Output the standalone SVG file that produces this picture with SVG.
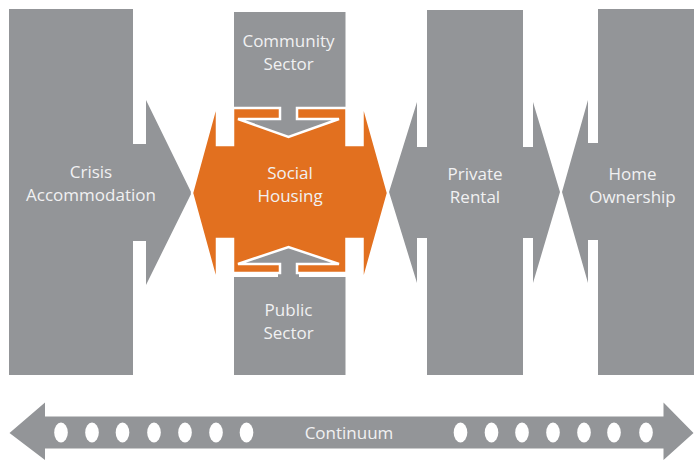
<svg xmlns="http://www.w3.org/2000/svg" width="694" height="461" viewBox="0 0 694 461">
  <style>
    .g { fill: #939598; }
    .o { fill: #E2701F; stroke: #ffffff; stroke-width: 2.5; stroke-linejoin: miter; }
    .t { font-family: "Open Sans", "Liberation Sans", sans-serif; font-size: 17px; fill: #f1f1f2; text-anchor: middle; }
    .dot { fill: #ffffff; }
  </style>
  <rect width="694" height="461" fill="#ffffff"/>

  <g id="crisis-accommodation">
    <path class="g" d="M9,9 L133,9 L133,144 L146,144 L146,100 L191.5,193 L146,285 L146,241 L133,241 L133,375 L9,375 Z"/>
    <text class="t" x="91" y="178">Crisis</text>
    <text class="t" x="91" y="201">Accommodation</text>
  </g>

  <g id="community-sector">
    <rect class="g" x="234" y="12" width="111.5" height="108"/>
    <text class="t" x="288.5" y="47">Community</text>
    <text class="t" x="288.5" y="70">Sector</text>
  </g>

  <g id="public-sector">
    <rect class="g" x="234" y="277" width="111.5" height="98"/>
    <text class="t" x="288.5" y="316">Public</text>
    <text class="t" x="288.5" y="339">Sector</text>
  </g>

  <g id="connectors">
    <polygon class="g" points="236,118 341,118 288.5,139"/>
    <polygon class="g" points="236,265 341,265 288.5,245"/>
    <rect class="g" x="278" y="262" width="21" height="16"/>
  </g>

  <g id="social-housing">
    <path class="o" d="M192,193 L217,102 L217,145 L233,145 L233,108 L280,108 L280,119 L238,119 L288.5,137 L339,119 L297,119 L297,108 L346.5,108 L346.5,145 L362.5,145 L362.5,102 L388,193 L362.5,284 L362.5,239 L346.5,239 L346.5,273 L297,273 L297,264 L339,264 L288.5,247 L238,264 L280,264 L280,273 L233,273 L233,239 L217,239 L217,284 Z"/>
    <text class="t" x="290" y="179">Social</text>
    <text class="t" x="290" y="202">Housing</text>
  </g>

  <g id="private-rental">
    <path class="g" d="M389,192 L417,102 L417,147 L427,147 L427,10 L523,10 L523,147 L533,147 L533,102 L560,192 L533,283 L533,238 L523,238 L523,375 L427,375 L427,238 L417,238 L417,283 Z"/>
    <text class="t" x="475" y="180">Private</text>
    <text class="t" x="475" y="203">Rental</text>
  </g>

  <g id="home-ownership">
    <path class="g" d="M562,192 L588,100 L588,143 L598,143 L598,9 L694,9 L694,375 L598,375 L598,240 L588,240 L588,283 Z"/>
    <text class="t" x="632.5" y="180">Home</text>
    <text class="t" x="632.5" y="203">Ownership</text>
  </g>

  <g id="continuum">
    <path class="g" d="M9.5,433 L45,402.5 L45,416.5 L663.5,416.5 L663.5,402.5 L693.5,433 L663.5,460 L663.5,448.5 L45,448.5 L45,460 Z"/>
    <ellipse class="dot" cx="61" cy="432.5" rx="6.8" ry="10"/>
    <ellipse class="dot" cx="92" cy="432.5" rx="6.8" ry="10"/>
    <ellipse class="dot" cx="122.5" cy="432.5" rx="6.8" ry="10"/>
    <ellipse class="dot" cx="154" cy="432.5" rx="6.8" ry="10"/>
    <ellipse class="dot" cx="185" cy="432.5" rx="6.8" ry="10"/>
    <ellipse class="dot" cx="216" cy="432.5" rx="6.8" ry="10"/>
    <ellipse class="dot" cx="246.5" cy="432.5" rx="6.8" ry="10"/>
    <ellipse class="dot" cx="460.5" cy="432.5" rx="6.8" ry="10"/>
    <ellipse class="dot" cx="491.5" cy="432.5" rx="6.8" ry="10"/>
    <ellipse class="dot" cx="522" cy="432.5" rx="6.8" ry="10"/>
    <ellipse class="dot" cx="553" cy="432.5" rx="6.8" ry="10"/>
    <ellipse class="dot" cx="584" cy="432.5" rx="6.8" ry="10"/>
    <ellipse class="dot" cx="614" cy="432.5" rx="6.8" ry="10"/>
    <ellipse class="dot" cx="646" cy="432.5" rx="6.8" ry="10"/>
    <text class="t" x="349" y="438.5">Continuum</text>
  </g>
</svg>
